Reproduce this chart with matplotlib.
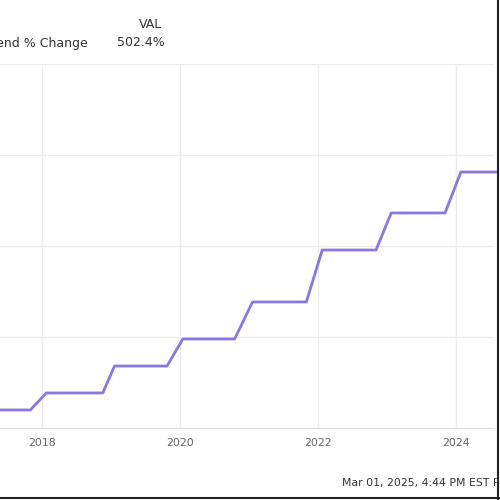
import matplotlib.pyplot as plt
from matplotlib.lines import Line2D

# dividend % change, step series (x in decimal years, y in %)
years = [2017.39, 2017.83, 2018.06, 2018.88, 2019.05, 2019.81, 2020.04,
         2020.79, 2021.05, 2021.83, 2022.06, 2022.84, 2023.06, 2023.84,
         2024.07, 2024.60]
pct_change = [19.8, 19.8, 38.5, 38.5, 68.1, 68.1, 97.8,
              97.8, 138.5, 138.5, 195.6, 195.6, 236.3, 236.3,
              281.3, 281.3]
year_ticks = [2018, 2020, 2022, 2024]
y_ticks = [0, 100, 200, 300, 400]

fig = plt.figure(figsize=(5, 5), dpi=100)
ax = fig.add_axes([0.0, 0.144, 0.988, 0.728])

ax.plot(years, pct_change, color='#8a78e0', lw=2.0, clip_on=False)

ax.set_xlim(2017.39, 2024.55)
ax.set_ylim(0, 400)
ax.set_xticks(year_ticks)
ax.set_xticklabels([str(y) for y in year_ticks])
ax.set_yticks(y_ticks)
ax.set_yticklabels([])
ax.tick_params(axis='x', length=0, pad=7, labelsize=7.8, labelcolor='#666666')
ax.tick_params(axis='y', length=0)
ax.grid(True, color='#ebebeb', lw=1)
for s in ['top', 'left', 'right']:
    ax.spines[s].set_visible(False)
ax.spines['bottom'].set_color('#e0e0e0')

# header
fig.text(0.176, 0.914, 'Annualized Dividend % Change', ha='right', va='center',
         fontsize=9, color='#333333')
fig.text(0.33, 0.914, '502.4%', ha='right', va='center', fontsize=9, color='#333333')
fig.text(0.325, 0.95, 'VAL', ha='right', va='center', fontsize=9, color='#333333')

# footer
fig.text(0.683, 0.035, 'Mar 01, 2025, 4:44 PM EST Powered by YCHARTS', ha='left',
         va='center', fontsize=7.8, color='#333333')

# frame on right and bottom edges
fig.add_artist(Line2D([0.996, 0.996], [0, 1], color='#222222', lw=1.5))
fig.add_artist(Line2D([0, 1], [0.004, 0.004], color='#222222', lw=1.5))

fig.savefig('out.png', dpi=100, facecolor='white')
